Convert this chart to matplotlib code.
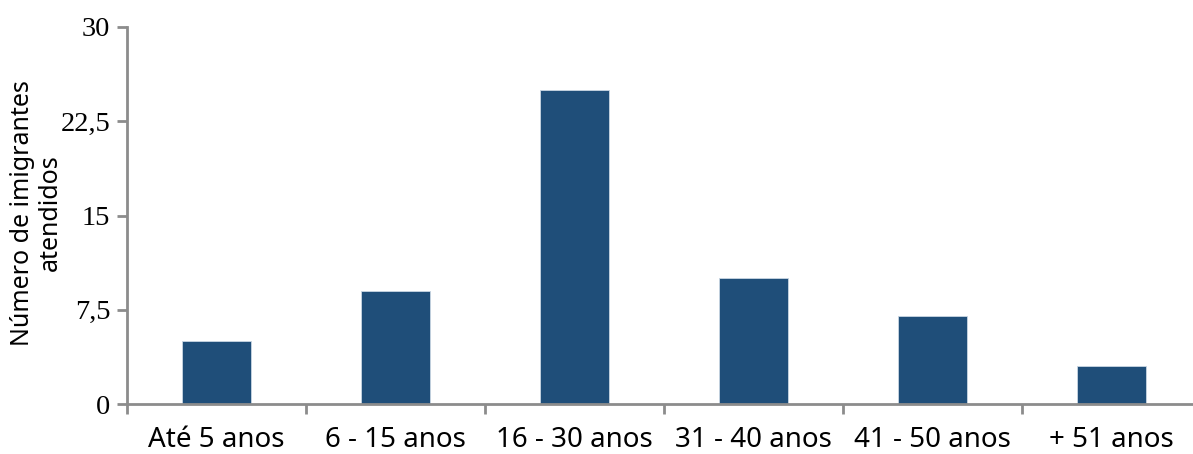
import numpy as np
import matplotlib
matplotlib.use("Agg")
import matplotlib.pyplot as plt
from matplotlib.ticker import FuncFormatter

categories = ["Até 5 anos", "6 - 15 anos", "16 - 30 anos", "31 - 40 anos", "41 - 50 anos", "+ 51 anos"]
values = [5, 9, 25, 10, 7, 3]
y_ticks = [0, 7.5, 15, 22.5, 30]

BAR_COLOR = "#1f4e79"
AXIS_COLOR = "#8c8c8c"
SANS = "Noto Sans"

fig = plt.figure(figsize=(11.93, 4.54), dpi=100)
W, H = 1193, 454
ax = fig.add_axes([127 / W, 1 - 404 / H, (1201 - 127) / W, (404 - 27) / H])

x = np.arange(len(categories))
ax.bar(x, values, width=0.39, color=BAR_COLOR, edgecolor="#c9d6e3", linewidth=0.6)

ax.set_xlim(-0.5, len(categories) - 0.5)
ax.set_ylim(0, 30)

# category labels centred, ticks on category boundaries
ax.set_xticks(x)
ax.set_xticklabels(categories, fontfamily=SANS, fontsize=20)
ax.tick_params(axis="x", which="major", length=0, pad=16)
ax.set_xticks(np.arange(-0.5, len(categories), 1), minor=True)
ax.tick_params(axis="x", which="minor", length=7, width=2, color=AXIS_COLOR, direction="out")

ax.set_yticks(y_ticks)
ax.yaxis.set_major_formatter(FuncFormatter(lambda v, p: f"{v:g}".replace(".", ",")))
for lbl in ax.get_yticklabels():
    lbl.set_fontfamily("Liberation Serif")
    lbl.set_fontsize(20.5)
ax.tick_params(axis="y", length=7, width=2, color=AXIS_COLOR, direction="out", pad=5)

for side in ["top", "right"]:
    ax.spines[side].set_visible(False)
for side in ["left", "bottom"]:
    ax.spines[side].set_color(AXIS_COLOR)
    ax.spines[side].set_linewidth(2)

# y label placed in figure coords so it sits where the reference has it
fig.text(36 / W, 1 - 213 / H, "Número de imigrantes\natendidos", fontfamily=SANS,
         fontsize=18, rotation=90, ha="center", va="center", linespacing=1.15,
         multialignment="center")

fig.savefig("out.png", dpi=100)
